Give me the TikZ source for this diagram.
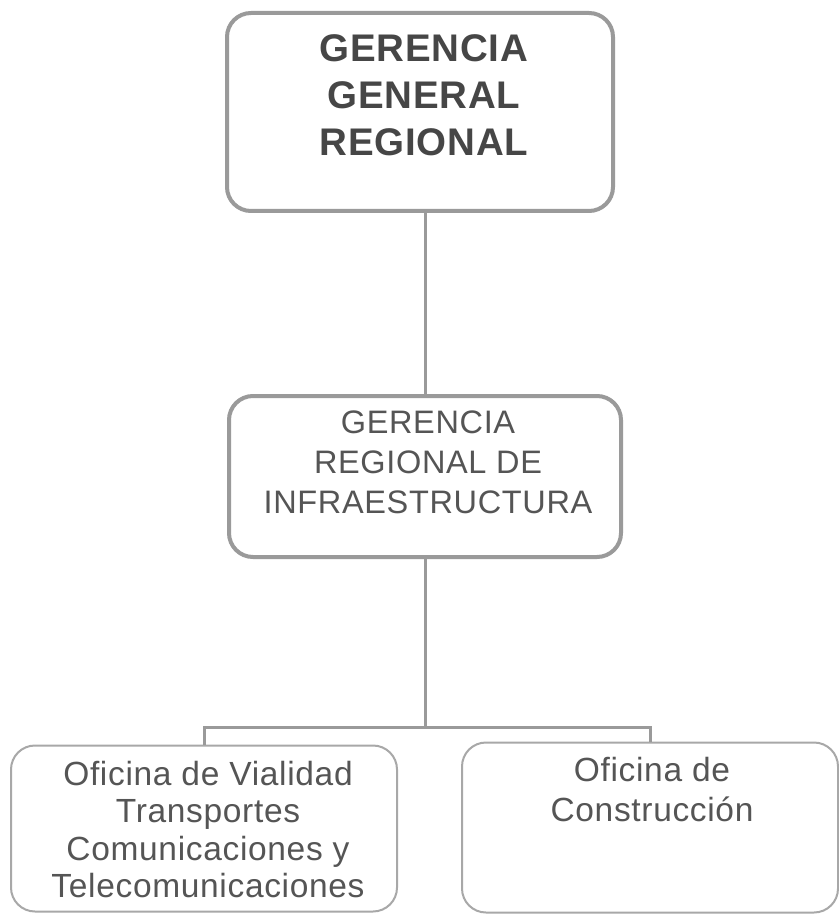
\documentclass[tikz,border=0pt]{standalone}
\usepackage{fontspec}
\setmainfont{Liberation Sans}
\newfontfamily\lsfont[LetterSpace=2]{Liberation Sans}
\definecolor{boxline}{HTML}{9A9A9A}
\definecolor{boxlinelight}{HTML}{A8A8A8}
\definecolor{txt}{HTML}{464646}
\definecolor{txtlight}{HTML}{555555}
\begin{document}
\begin{tikzpicture}[x=1pt,y=1pt,
  bigbox/.style={draw=boxline,line width=4pt,rounded corners=24pt,fill=white,minimum width=#1},
  smallbox/.style={draw=boxlinelight,line width=2pt,rounded corners=24pt,fill=white},
  conn/.style={draw=boxline,line width=3pt},
  lbl/.style={inner sep=0pt,anchor=north,align=center}]
\useasboundingbox (0,0) rectangle (838,-917);
\fill[white] (0,0) rectangle (838,-917);
% boxes
\node[bigbox=386pt,minimum height=198pt] (top) at (420,-112) {};
\node[bigbox=392pt,minimum height=161pt] (mid) at (425,-476.5) {};
\node[smallbox,minimum width=386pt,minimum height=166pt] (bl) at (204,-828.5) {};
\node[smallbox,minimum width=376pt,minimum height=170pt] (br) at (650,-827.5) {};
% connectors
\coordinate (j) at (425,-727);
\draw[conn] (mid.north |- top.south) -- (mid.north);
\draw[conn] (mid.south) -- (j);
\draw[conn] (bl.north) |- (j) -| (br.north);
% texts
\node[lbl,text=txt,font={\lsfont\bfseries\fontsize{38.5}{47}\selectfont}] (ttop) at (424,-34) {GERENCIA\\GENERAL\\REGIONAL};
\node[lbl,text=txtlight,font={\lsfont\fontsize{32.5}{40}\selectfont}] (tmid) at (428,-411) {GERENCIA\\REGIONAL DE\\INFRAESTRUCTURA};
\node[lbl,text=txtlight,font={\lsfont\fontsize{33.5}{37.5}\selectfont}] (tbl) at (208,-761) {Oficina de Vialidad\\Transportes\\Comunicaciones y\\Telecomunicaciones};
\node[lbl,text=txtlight,font={\lsfont\fontsize{33.5}{40}\selectfont}] (tbr) at (652,-757) {Oficina de\\Construcción};
\end{tikzpicture}
\end{document}
